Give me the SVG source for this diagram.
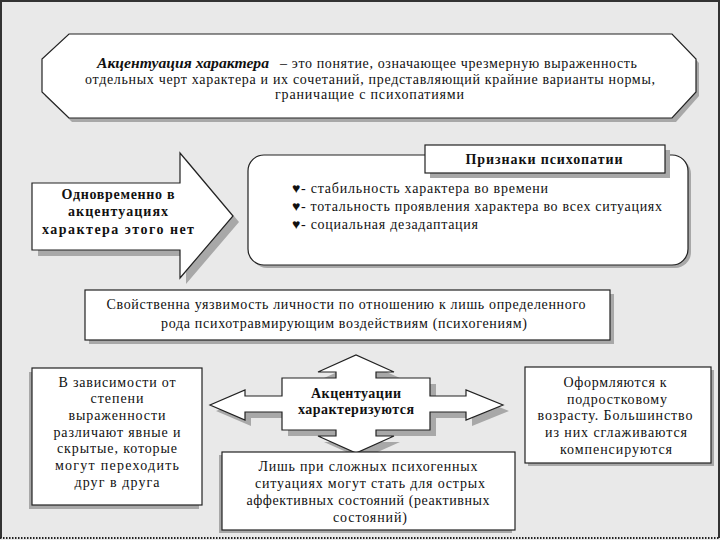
<svg xmlns="http://www.w3.org/2000/svg" width="720" height="540" viewBox="0 0 720 540" font-family="'Liberation Serif', 'Times New Roman', Tinos, 'DejaVu Serif', 'Noto Serif', FreeSerif, serif">
<style>
.bg{fill:#e9e9e9}
.box{fill:#ffffff;stroke:#222;stroke-width:1.2}
.sh{fill:#a8a8a8}
text{font-family:'Liberation Serif','Times New Roman',Tinos,'DejaVu Serif','Noto Serif',FreeSerif,serif;fill:#111;font-size:14px}
.b{font-weight:bold}
.bi{font-weight:bold;font-style:italic}
.c{text-anchor:middle}
</style>
<rect class="bg" x="0" y="0" width="720" height="540"/>
<g id="frame">
<line x1="0" y1="1" x2="720" y2="1" stroke="#333" stroke-width="2"/>
<line x1="1" y1="0" x2="1" y2="538" stroke="#333" stroke-width="2"/>
<line x1="719" y1="0" x2="719" y2="538" stroke="#333" stroke-width="2"/>
<line x1="0" y1="538" x2="720" y2="538" stroke="#222" stroke-width="2" stroke-dasharray="1.5 1.5"/>
</g>
<g id="definition">
<polygon class="sh" points="72,38 676,38 699,63 699,96 676,122 72,122 45,96 45,63"/>
<polygon class="box" points="69,34 672,34 696,59 696,92 672,118 69,118 42,92 42,59"/>
<text class="bi" x="97" y="68" textLength="172" lengthAdjust="spacingAndGlyphs">Акцентуация характера</text>
<text class="t" x="280" y="68" textLength="357" lengthAdjust="spacing">–  это понятие, означающее чрезмерную выраженность</text>
<text class="t" x="85" y="84" textLength="570" lengthAdjust="spacing">отдельных черт характера и их сочетаний, представляющий крайние варианты нормы,</text>
<text class="t" x="275" y="99" textLength="189" lengthAdjust="spacing">граничащие с психопатиями</text>
</g>
<g id="simultaneous-arrow">
<path class="sh" d="M38,189 H186 V159 L239,222 L186,284 V256 H38 Z"/>
<path class="box" d="M32,183 H180 V153 L233,216 L180,278 V250 H32 Z"/>
<text class="b c" x="118" y="199" textLength="113" lengthAdjust="spacing">Одновременно в</text>
<text class="b c" x="118" y="216" textLength="100" lengthAdjust="spacing">акцентуациях</text>
<text class="b c" x="118" y="234" textLength="152" lengthAdjust="spacing">характера этого нет</text>
</g>
<g id="psychopathy-signs">
<rect class="sh" x="251" y="158" width="440" height="110" rx="16"/>
<rect class="box" x="248" y="155" width="440" height="110" rx="16"/>
<text class="t" x="292" y="193" textLength="256" lengthAdjust="spacing">♥- стабильность характера во времени</text>
<text class="t" x="292" y="211" textLength="370" lengthAdjust="spacing">♥- тотальность проявления характера во всех ситуациях</text>
<text class="t" x="292" y="229" textLength="186" lengthAdjust="spacing">♥- социальная дезадаптация</text>
</g>
<g id="psychopathy-title">
<rect class="sh" x="430" y="150" width="240" height="28"/>
<rect class="box" x="425" y="145" width="240" height="28"/>
<text class="b c" x="544" y="164" textLength="157" lengthAdjust="spacing">Признаки психопатии</text>
</g>
<g id="vulnerability">
<rect class="sh" x="89" y="294" width="525" height="50"/>
<rect class="box" x="85" y="290" width="525" height="50"/>
<text class="t c" x="346" y="309" textLength="479" lengthAdjust="spacing">Свойственна уязвимость личности по отношению к лишь определенного</text>
<text class="t c" x="344" y="328" textLength="366" lengthAdjust="spacing">рода психотравмирующим воздействиям (психогениям)</text>
</g>
<g id="characterized-arrow">
<path class="sh" d="M288,384 H342 V378 H324 L362,361 L400,378 H382 V384 H436 V402 H472 V396 L509,411 L472,426 V418 H436 V436 H382 V442 H400 L362,459 L324,442 H342 V436 H288 V418 H251 V426 L216,411 L251,396 V402 H288 Z"/>
<path class="box" d="M282,378 H336 V372 H318 L356,355 L394,372 H376 V378 H430 V396 H466 V390 L503,405 L466,420 V412 H430 V430 H376 V436 H394 L356,453 L318,436 H336 V430 H282 V412 H245 V420 L210,405 L245,390 V396 H282 Z"/>
<text class="b c" x="356" y="398" textLength="90" lengthAdjust="spacing">Акцентуации</text>
<text class="b c" x="356" y="414" textLength="116" lengthAdjust="spacing">характеризуются</text>
</g>
<g id="degree">
<rect class="sh" x="29" y="372" width="170" height="137"/>
<rect class="box" x="32" y="368" width="170" height="137"/>
<text class="t c" x="117" y="387" textLength="117" lengthAdjust="spacing">В зависимости от</text>
<text class="t c" x="117" y="403" textLength="53" lengthAdjust="spacing">степени</text>
<text class="t c" x="117" y="420" textLength="97" lengthAdjust="spacing">выраженности</text>
<text class="t c" x="117" y="437" textLength="127" lengthAdjust="spacing">различают явные и</text>
<text class="t c" x="117" y="453" textLength="120" lengthAdjust="spacing">скрытые, которые</text>
<text class="t c" x="117" y="470" textLength="124" lengthAdjust="spacing">могут переходить</text>
<text class="t c" x="117" y="487" textLength="85" lengthAdjust="spacing">друг в друга</text>
</g>
<g id="teen-age">
<rect class="sh" x="528" y="370" width="186" height="96"/>
<rect class="box" x="525" y="367" width="186" height="96"/>
<text class="t c" x="615" y="387" textLength="103" lengthAdjust="spacing">Оформляются к</text>
<text class="t c" x="617" y="404" textLength="100" lengthAdjust="spacing">подростковому</text>
<text class="t c" x="615" y="420" textLength="155" lengthAdjust="spacing">возрасту. Большинство</text>
<text class="t c" x="616" y="437" textLength="142" lengthAdjust="spacing">из них сглаживаются</text>
<text class="t c" x="616" y="454" textLength="112" lengthAdjust="spacing">компенсируются</text>
</g>
<g id="acute-states">
<rect class="sh" x="219" y="455" width="293" height="78"/>
<rect class="box" x="222" y="452" width="293" height="78"/>
<text class="t c" x="368" y="471" textLength="219" lengthAdjust="spacing">Лишь при сложных психогенных</text>
<text class="t c" x="370" y="488" textLength="230" lengthAdjust="spacing">ситуациях могут стать для острых</text>
<text class="t c" x="368" y="505" textLength="243" lengthAdjust="spacing">аффективных состояний (реактивных</text>
<text class="t c" x="370" y="522" textLength="74" lengthAdjust="spacing">состояний)</text>
</g>
<g id="connectors"></g>
</svg>
